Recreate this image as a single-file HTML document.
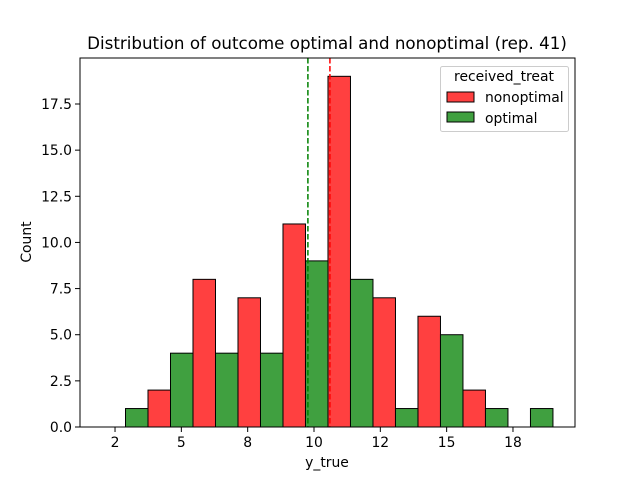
<!DOCTYPE html>
<html><head><meta charset="utf-8"><style>
body{margin:0;background:#fff;font-family:"Liberation Sans","DejaVu Sans",sans-serif}
svg text{font-family:"DejaVu Sans","Liberation Sans",sans-serif}
</style></head><body>
<svg id="c" width="640" height="480" xmlns="http://www.w3.org/2000/svg"></svg>
<script>
const binStart = 2.047;
const binWidth = 1.696;
const nonoptimalCounts = [0, 2, 8, 7, 11, 19, 7, 6, 2, 0];
const optimalCounts = [1, 4, 4, 4, 9, 8, 1, 5, 1, 1];
const yTicks = [0, 2.5, 5, 7.5, 10, 12.5, 15, 17.5];
const yTickLabels = ["0.0","2.5","5.0","7.5","10.0","12.5","15.0","17.5"];
const xTicks = [2.5, 5, 7.5, 10, 12.5, 15, 17.5];
const xTickLabels = ["2","5","8","10","12","15","18"];
const meanOptimal = 9.77;
const meanNonoptimal = 10.6;

const L=80,R=575,T=58,B=427;
const xs=v=>314+(v-10)*26.53;
const ys=v=>B-v*18.457;
const svg=document.getElementById('c');
const NS="http://www.w3.org/2000/svg";
function mk(tag,attrs,text){const e=document.createElementNS(NS,tag);for(const k in attrs)e.setAttribute(k,attrs[k]);if(text!==undefined)e.textContent=text;svg.appendChild(e);return e;}

nonoptimalCounts.forEach((c,i)=>{
  const x0=xs(binStart+i*binWidth), xm=xs(binStart+(i+0.5)*binWidth);
  const r=mk('rect',{x:x0,y:ys(c),width:xm-x0,height:B-ys(c),fill:'#ff4040',stroke:'#000','stroke-width':1});
  
  
});
optimalCounts.forEach((c,i)=>{
  const x0=xs(binStart+(i+0.5)*binWidth), x1=xs(binStart+(i+1)*binWidth);
  const r=mk('rect',{x:x0,y:ys(c),width:x1-x0,height:B-ys(c),fill:'#40a040',stroke:'#000','stroke-width':1});
  
  
});
let l1=mk('line',{x1:xs(meanOptimal),x2:xs(meanOptimal),y1:T,y2:B,stroke:'green','stroke-width':1.5,'stroke-dasharray':'5.5,2.5'});


let l2=mk('line',{x1:xs(meanNonoptimal),x2:xs(meanNonoptimal),y1:T,y2:B,stroke:'red','stroke-width':1.5,'stroke-dasharray':'5.5,2.5'});



let fr=mk('rect',{x:L,y:T,width:R-L,height:B-T,fill:'none',stroke:'#000','stroke-width':1});



yTicks.forEach((v,i)=>{
  mk('line',{x1:L-5,x2:L,y1:ys(v),y2:ys(v),stroke:'#000'});
  const t=mk('text',{x:L-8,y:ys(v)+5,'text-anchor':'end','font-size':13.9},yTickLabels[i]);
  
  
});
xTicks.forEach((v,i)=>{
  mk('line',{x1:xs(v),x2:xs(v),y1:B,y2:B+5,stroke:'#000'});
  const t=mk('text',{x:xs(v),y:B+20,'text-anchor':'middle','font-size':13.9},xTickLabels[i]);
  
  
});
</script>
<svg width="640" height="480" style="position:absolute;left:0;top:0" xmlns="http://www.w3.org/2000/svg">
<text x="327" y="49" text-anchor="middle" font-size="16.7">Distribution of outcome optimal and nonoptimal (rep. 41)</text>
<text x="327" y="467" text-anchor="middle" font-size="13.9">y_true</text>
<text x="31" y="242" text-anchor="middle" font-size="13.9" transform="rotate(-90 31 242)">Count</text>
<g>
<rect x="440.5" y="66.5" width="128" height="65" rx="2" fill="#fff" fill-opacity="0.8" stroke="#ccc"/>
<text x="504" y="81" text-anchor="middle" font-size="13.9">received_treat</text>
<rect x="447" y="92" width="27" height="10" fill="#ff4040" stroke="#000"/>
<text x="485" y="102" font-size="13.9">nonoptimal</text>
<rect x="447" y="112" width="27" height="10" fill="#40a040" stroke="#000"/>
<text x="485" y="123" font-size="13.9">optimal</text>
</g>
</svg>
</body></html>
